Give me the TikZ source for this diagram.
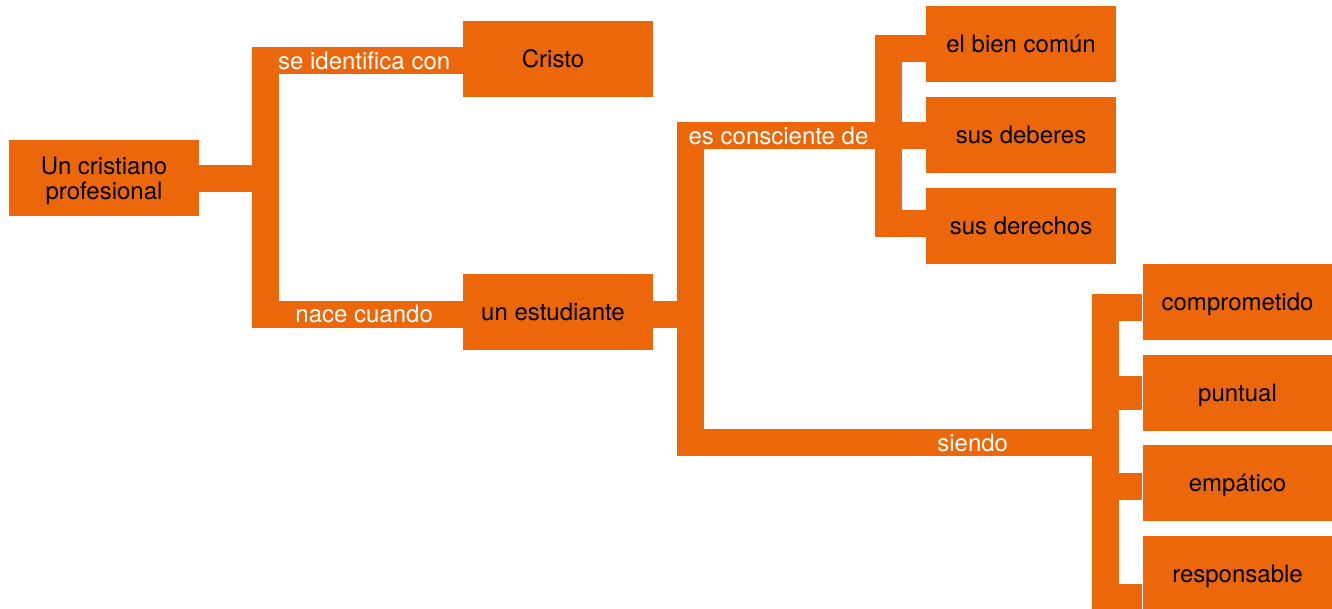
\documentclass[tikz,border=0pt]{standalone}
\usepackage{fontspec}
\setmainfont{TeX Gyre Heros}
\definecolor{orng}{RGB}{236,103,10}
\begin{document}
\begin{tikzpicture}[x=1pt,y=-1pt,
  box/.style={fill=orng,minimum width=190pt,minimum height=76pt,inner sep=0pt,
    align=center,text=black,font=\fontsize{24}{24.5}\selectfont},
  onebox/.style={box,text height=17pt,text depth=0pt},
  conn/.style={draw=orng,line width=27pt,line cap=butt,line join=miter},
  lbl/.style={text=white,inner sep=0pt,font=\fontsize{24}{24.5}\selectfont,
    text height=17pt,text depth=0pt}]
\useasboundingbox (0,0) rectangle (1332,609);
% boxes
\node[box] (uc) at (104,178) {};
\node[align=center,inner sep=0pt,font=\fontsize{24}{24.5}\selectfont] (uct)
  at (104,181) {Un cristiano\\profesional};
\node[onebox] (cristo) at (558,59) {\hspace*{-10pt}Cristo};
\node[onebox] (est) at (558,312) {\hspace*{-10pt}un estudiante};
\node[onebox] (bien) at (1021,44) {el bien común};
\node[onebox] (deb) at (1021,135) {sus deberes};
\node[onebox] (der) at (1021,226) {sus derechos};
\node[onebox] (comp) at (1237.5,302) {comprometido};
\node[onebox] (punt) at (1237.5,393) {puntual};
\node[onebox] (emp) at (1237.5,483) {empático};
\node[onebox] (resp) at (1237.5,574) {responsable};
% junction coordinates
\coordinate (j1t) at (265.5,61);
\coordinate (j1b) at (265.5,314.5);
\coordinate (j2) at (690.5,314.5);
\coordinate (j2t) at (690.5,136);
\coordinate (j2b) at (690.5,442.5);
\coordinate (j3t) at (888.5,49);
\coordinate (j3m) at (888.5,136);
\coordinate (j3b) at (888.5,223.5);
\coordinate (j4t) at (1105.5,307.5);
\coordinate (j4m) at (1105.5,442.5);
\coordinate (j4p) at (1105.5,393);
\coordinate (j4e) at (1105.5,486.5);
\coordinate (j4b) at (1105.5,597.5);
% connectors
\draw[conn] (uc.east |- 0,178.5) -- (j1t |- 0,178.5);
\draw[conn] (cristo.west |- j1t) -- node[lbl]{se identifica con} (j1t) -- (j1b)
  -- node[lbl]{nace cuando} (est.west |- j1b);
\draw[conn] (est.east |- j2) -- (j2);
\draw[conn] (j3m) -- node[lbl,xshift=-11pt]{es consciente de} (j2t) -- (j2b)
  -- node[lbl,pos=0.68]{siendo} (j4m);
\draw[conn] (bien.west |- j3t) -- (j3t) -- (j3b) -- (der.west |- j3b);
\draw[conn] (j3m) -- (deb.west |- j3m);
\draw[conn] (comp.west |- j4t) -- (j4t) -- (j4b) -- (resp.west |- j4b);
\draw[conn,line width=34pt] (j4p) -- (punt.west);
\draw[conn] (j4e) -- (emp.west |- j4e);
\end{tikzpicture}
\end{document}
